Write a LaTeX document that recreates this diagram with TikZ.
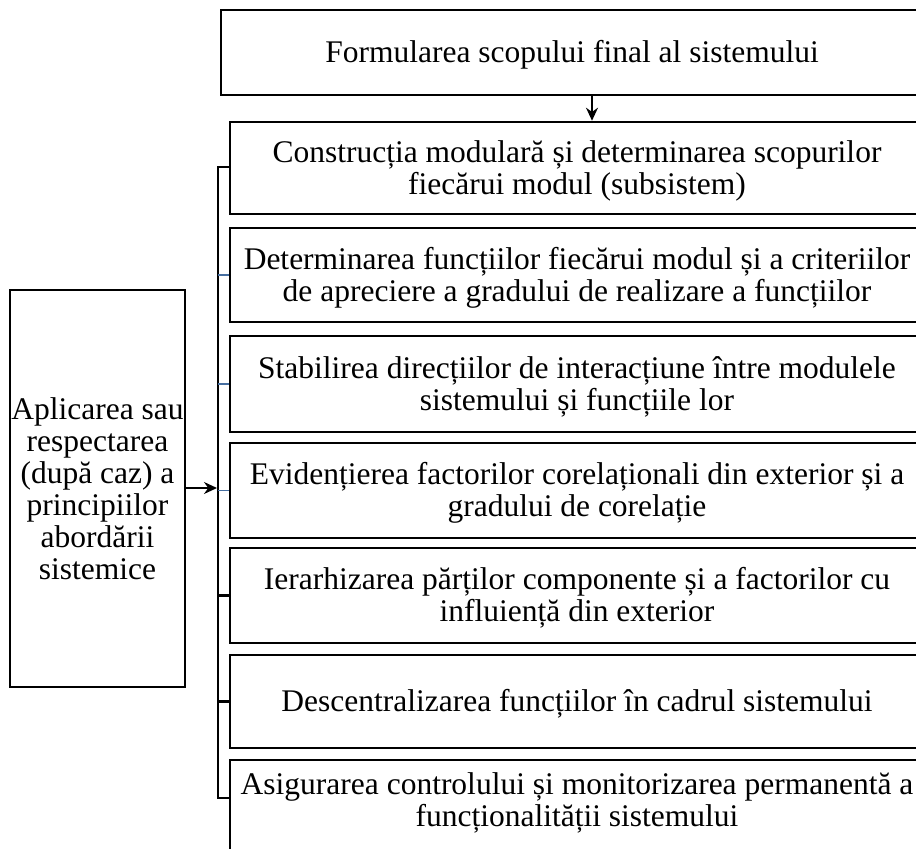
\documentclass[tikz,border=0pt]{standalone}
\usepackage{fontspec}
\setmainfont{Liberation Serif}
\usetikzlibrary{arrows.meta}
\begin{document}
\begin{tikzpicture}[x=1pt,y=-1pt,
  txt/.style={font=\fontsize{31.5}{32}\selectfont, align=center, inner sep=0pt},
  boxline/.style={line width=2.6pt},
  stage/.style={draw, boxline, minimum width=694pt, inner sep=0pt},
  bus/.style={line width=2.6pt},
  tickblue/.style={line width=1.5pt, draw={rgb,255:red,70;green,110;blue,160}},
  tickblack/.style={line width=2.2pt},
  arr/.style={-{Stealth[length=13pt,width=12pt]}, line width=1.5pt}
]
\useasboundingbox (0,0) rectangle (916,849);
\fill[white] (0,0) rectangle (916,849);
% top box
\node[draw, line width=1.2pt, minimum width=702pt, minimum height=85pt, inner sep=0pt] (top) at (572,52.5) {};
\node[txt, yshift=-2pt] (ttop) at (top.center) {Formularea scopului final al sistemului};
% boxes
\node[stage, minimum height=92pt] (b1) at (577,168) {};
\node[stage, minimum height=94pt] (b2) at (577,275) {};
\node[stage, minimum height=96pt] (b3) at (577,384) {};
\node[stage, minimum height=95pt] (b4) at (577,490.5) {};
\node[stage, minimum height=95pt] (b5) at (577,595.5) {};
\node[stage, minimum height=93pt] (b6) at (577,701.5) {};
\coordinate (b7nw) at (230,760);
\coordinate (b7ne) at (924,760);
\draw[boxline] (b7nw) ++(0,110) -- (b7nw) -- (b7ne) -- ++(0,110);
\node[txt, yshift=-2.5pt] (t1) at (b1.center) {Construcția modulară și determinarea scopurilor\\fiecărui modul (subsistem)};
\node[txt, yshift=-2.5pt] (t2) at (b2.center) {Determinarea funcțiilor fiecărui modul și a criteriilor\\de apreciere a gradului de realizare a funcțiilor};
\node[txt, yshift=-2.5pt] (t3) at (b3.center) {Stabilirea direcțiilor de interacțiune între modulele\\sistemului și funcțiile lor};
\node[txt, yshift=-2.5pt] (t4) at (b4.center) {Evidențierea factorilor corelaționali din exterior și a\\gradului de corelație};
\node[txt, yshift=-2.5pt] (t5) at (b5.center) {Ierarhizarea părților componente și a factorilor cu\\influiență din exterior};
\node[txt, yshift=-2pt] (t6) at (b6.center) {Descentralizarea funcțiilor în cadrul sistemului};
\node[txt] (t7) at (577,803) {Asigurarea controlului și monitorizarea permanentă a\\funcționalității sistemului};
% left box
\node[draw, line width=1.8pt, minimum width=175pt, minimum height=397pt, inner sep=0pt] (L) at (97.5,488.5) {};
\node[txt] (tL) at (L.center) {Aplicarea sau\\respectarea\\(după caz) a\\principiilor\\abordării\\sistemice};
% arrow top
\draw[arr] (top.south -| 592,0) -- (b1.north -| 592,0);
% bus
\coordinate (busT) at (218,167);
\coordinate (busB) at (218,798);
\draw[bus] (b1.west |- busT) -- (busT) -- (busB) -- (b7nw |- busB);
\draw[tickblue] (218,0 |- b2.west) -- (b2.west);
\draw[tickblue] (218,0 |- b3.west) -- (b3.west);
\draw[tickblue] (218,0 |- b4.west) -- (b4.west);
\draw[tickblack] (218,0 |- b5.west) -- (b5.west);
\draw[tickblack] (218,0 |- b6.west) -- (b6.west);
\draw[arr] (L.east |- 0,488) -- (217,488);
\end{tikzpicture}
\end{document}
